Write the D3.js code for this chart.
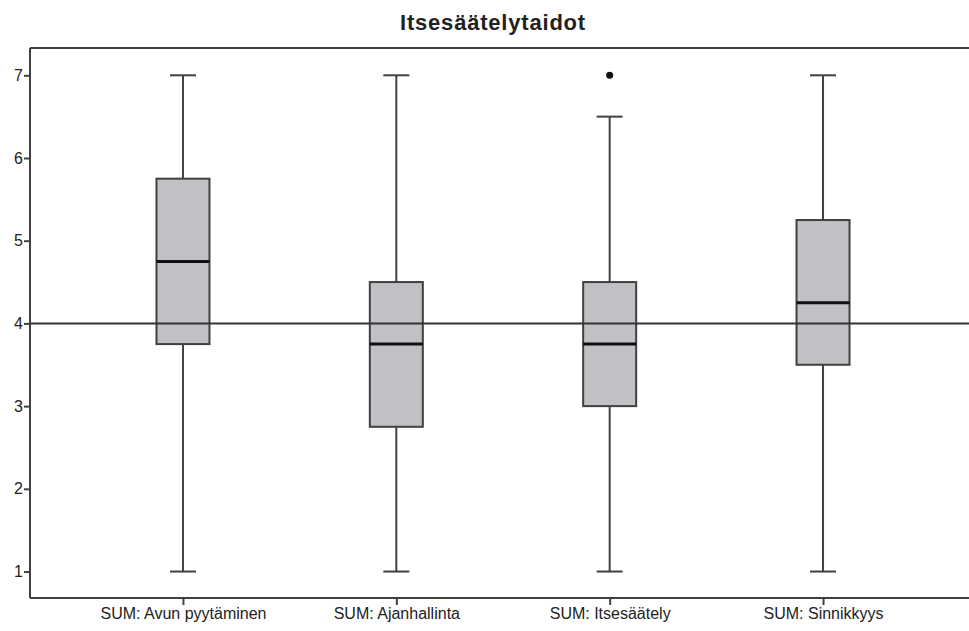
<!DOCTYPE html>
<html>
<head>
<meta charset="utf-8">
<script src="https://cdn.jsdelivr.net/npm/d3@7"></script>
<style>
  body { margin: 0; background: #fff; }
  text { font-family: "Liberation Sans", Arial, sans-serif; fill: #222; }
</style>
</head>
<body>
<div id="chart"></div>
<script>
const svgWidth = 969;
const svgHeight = 631;

// data
const categories = ["SUM: Avun pyytäminen", "SUM: Ajanhallinta", "SUM: Itsesäätely", "SUM: Sinnikkyys"];
const whiskerLow = [1, 1, 1, 1];
const q1 = [3.75, 2.75, 3.0, 3.5];
const medians = [4.75, 3.75, 3.75, 4.25];
const q3 = [5.75, 4.5, 4.5, 5.25];
const whiskerHigh = [7, 7, 6.5, 7];
const outliers = [[], [], [7], []];
const yTicks = [1, 2, 3, 4, 5, 6, 7];
const refLine = 4;

const margin = { top: 48, right: 0, bottom: 33, left: 30 };
const width = svgWidth - margin.left - margin.right;
const height = svgHeight - margin.top - margin.bottom;

const svg = d3.select("#chart")
  .append("svg")
  .attr("width", svgWidth)
  .attr("height", svgHeight);

const chartGroup = svg.append("g")
  .attr("transform", `translate(${margin.left}, ${margin.top})`);

const x = d3.scalePoint()
  .domain(categories)
  .range([0, 946])
  .padding(0.717);

const y = d3.scaleLinear()
  .domain([0.68, 7.33])
  .range([height, 0]);

const boxWidth = 53;
const capWidth = 26;
const stroke = "#404040";
const sw = 2;

// top line of the frame
chartGroup.append("line")
  .attr("x1", 0).attr("x2", width).attr("y1", 0).attr("y2", 0)
  .attr("stroke", stroke).attr("stroke-width", sw);

// y axis
const leftAxis = d3.axisLeft(y).tickValues(yTicks).tickSize(6).tickPadding(1).tickFormat(d3.format("d"));
const yAxis = chartGroup.append("g").call(leftAxis);
yAxis.select(".domain").attr("stroke", stroke).attr("stroke-width", sw)
  .attr("d", `M0,0V${height}`);
yAxis.selectAll(".tick line").attr("stroke", stroke).attr("stroke-width", sw);
yAxis.selectAll(".tick text").attr("font-size", "16px").attr("fill", "#222")
  .style("font-family", "Liberation Sans, Arial, sans-serif");

// x axis
const bottomAxis = d3.axisBottom(x).tickSize(7).tickPadding(3);
const xAxis = chartGroup.append("g")
  .attr("transform", `translate(0, ${height})`)
  .call(bottomAxis);
xAxis.select(".domain").attr("stroke", stroke).attr("stroke-width", sw)
  .attr("d", `M0,0H${width}`);
xAxis.selectAll(".tick line").attr("stroke", stroke).attr("stroke-width", sw);
xAxis.selectAll(".tick text").attr("font-size", "16px").attr("fill", "#222")
  .style("font-family", "Liberation Sans, Arial, sans-serif");

const boxes = categories.map((c, i) => ({
  cat: c, lo: whiskerLow[i], q1: q1[i], med: medians[i], q3: q3[i], hi: whiskerHigh[i], out: outliers[i]
}));

const g = chartGroup.selectAll(".box")
  .data(boxes)
  .enter()
  .append("g")
  .attr("class", "box")
  .attr("transform", d => `translate(${x(d.cat)}, 0)`);

// whiskers
g.append("line")
  .attr("x1", 0).attr("x2", 0)
  .attr("y1", d => y(d.hi)).attr("y2", d => y(d.lo))
  .attr("stroke", stroke).attr("stroke-width", sw);
g.append("line")
  .attr("x1", -capWidth / 2).attr("x2", capWidth / 2)
  .attr("y1", d => y(d.hi)).attr("y2", d => y(d.hi))
  .attr("stroke", stroke).attr("stroke-width", sw);
g.append("line")
  .attr("x1", -capWidth / 2).attr("x2", capWidth / 2)
  .attr("y1", d => y(d.lo)).attr("y2", d => y(d.lo))
  .attr("stroke", stroke).attr("stroke-width", sw);

// boxes
g.append("rect")
  .attr("x", -boxWidth / 2)
  .attr("width", boxWidth)
  .attr("y", d => y(d.q3))
  .attr("height", d => y(d.q1) - y(d.q3))
  .attr("fill", "#c1c1c5")
  .attr("stroke", stroke)
  .attr("stroke-width", sw);

// reference line (drawn over boxes)
chartGroup.append("line")
  .attr("x1", 0).attr("x2", width)
  .attr("y1", y(refLine)).attr("y2", y(refLine))
  .attr("stroke", "#333").attr("stroke-width", sw);

// medians
g.append("line")
  .attr("x1", -boxWidth / 2).attr("x2", boxWidth / 2)
  .attr("y1", d => y(d.med)).attr("y2", d => y(d.med))
  .attr("stroke", "#111").attr("stroke-width", 3);

// outliers
g.selectAll(".outlier")
  .data(d => d.out)
  .enter()
  .append("circle")
  .attr("cx", 0)
  .attr("cy", d => y(d))
  .attr("r", 3.5)
  .attr("fill", "#111");

// title
svg.append("text")
  .attr("x", 493)
  .attr("y", 30)
  .attr("text-anchor", "middle")
  .attr("font-size", "22px")
  .attr("font-weight", "bold")
  .attr("letter-spacing", "0.8px")
  .text("Itsesäätelytaidot");
</script>
</body>
</html>
